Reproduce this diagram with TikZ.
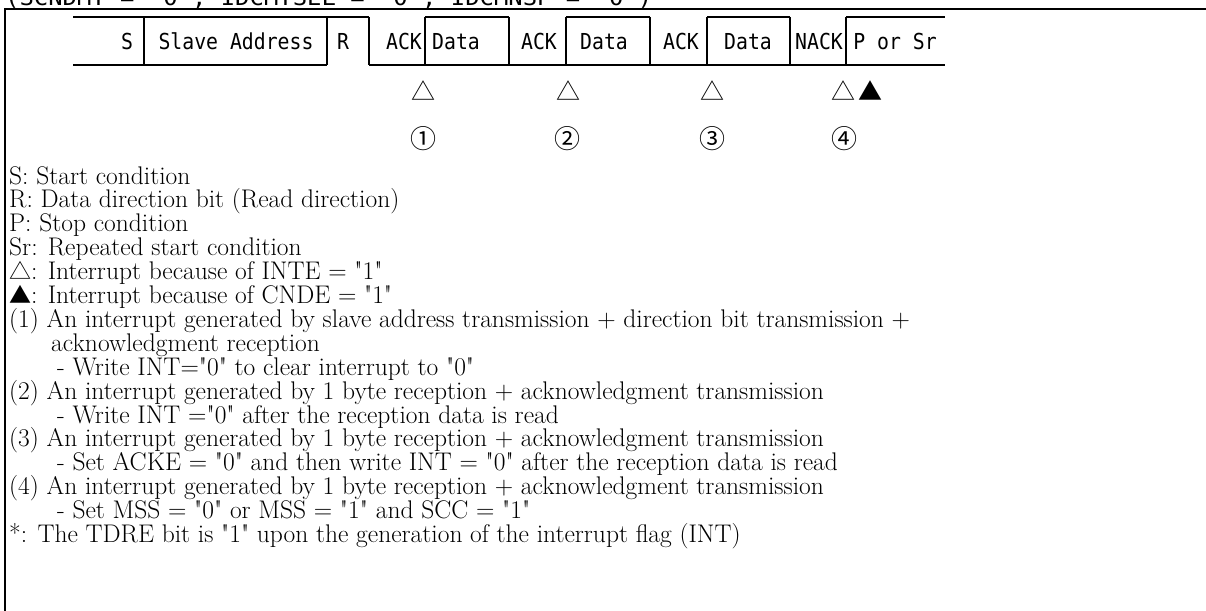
\documentclass[tikz,border=0pt]{standalone}
\usepackage{fontspec}
\usepackage{graphicx}
\newfontfamily\gothic[FakeStretch=0.9]{DejaVu Sans Mono}
\newfontfamily\cjk{Noto Sans CJK JP}
\newcommand\lsymb[1]{{\cjk\fontsize{22pt}{24pt}\selectfont #1}}
\newcommand\dq{\XeTeXglyph\XeTeXcharglyph"22\relax}
\tikzset{
  frameline/.style={line width=1.6pt},
  wave/.style={line width=1.5pt, line join=miter},
  fld/.style={font=\gothic\fontsize{22pt}{22pt}\selectfont, inner sep=0pt, anchor=base},
  intsym/.style={font=\cjk\fontsize{24pt}{24pt}\selectfont, inner sep=0pt, anchor=center},
  numsym/.style={font=\cjk\fontsize{26pt}{26pt}\selectfont, inner sep=0pt, anchor=center},
  lgd/.style={font=\fontsize{25.5pt}{24pt}\selectfont, inner sep=0pt, anchor=base west}
}
\begin{document}
\begin{tikzpicture}[x=1pt,y=-1pt]
\clip (0,0) rectangle (1206,610);
\fill[white] (0,0) rectangle (1206,610);
% clipped header
\node[font=\gothic\fontsize{22pt}{22pt}\selectfont, inner sep=0pt, anchor=base west] (hdr) at (5,6)
  {\resizebox{647pt}{\height}{(SCNDMT = "0", IDCMTSEL = "0", IDCMNSP = "0")}};
% frame
\draw[frameline] (5,640) -- (5,9) -- (1230,9);
% field row
\draw[wave] (73,17) -- (369,17);
\draw[wave] (73,65) -- (327,65);
\draw[wave] (369,65) -- (945,65);
\foreach \xx in {144,327,369,425,509,566,650,707,790,846}
  \draw[wave] (\xx,17) -- (\xx,65);
\draw[wave] (425,17) -- (509,17);
\draw[wave] (566,17) -- (650,17);
\draw[wave] (707,17) -- (790,17);
\draw[wave] (846,17) -- (945,17);
% field labels
\node[fld] (tS)  at (127,49) {S};
\node[fld] (tSA) at (236,49) {Slave Address};
\node[fld] (tR)  at (343,49) {R};
\node[fld] (tA1) at (404,49) {ACK};
\node[fld] (tD1) at (456,49) {Data};
\node[fld] (tA2) at (539,49) {ACK};
\node[fld] (tD2) at (604,49) {Data};
\node[fld] (tA3) at (681,49) {ACK};
\node[fld] (tD3) at (748,49) {Data};
\node[fld] (tN)  at (819,49) {NACK};
\node[fld] (tP)  at (895,49) {P or Sr};
% interrupt marks
\node[intsym] (m1) at (423,91) {△};
\node[intsym] (m2) at (568,91) {△};
\node[intsym] (m3) at (712,91) {△};
\node[intsym] (m4) at (843,91) {△};
\node[intsym] (m4b) at (870,91) {▲};
\node[numsym] (n1) at (423,139) {①};
\node[numsym] (n2) at (567,139) {②};
\node[numsym] (n3) at (712,139) {③};
\node[numsym] (n4) at (844,139) {④};
% legend
\node[lgd] (l0)  at (9,184.0) {S: Start condition};
\node[lgd] (l1)  at (9,207.9) {R: Data direction bit (Read direction)};
\node[lgd] (l2)  at (9,231.8) {P: Stop condition};
\node[lgd] (l3)  at (9,255.7) {Sr: Repeated start condition};
\node[lgd] (l4)  at (9,279.6) {\lsymb{△}: Interrupt because of INTE = \dq1\dq};
\node[lgd] (l5)  at (9,303.5) {\lsymb{▲}: Interrupt because of CNDE = \dq1\dq};
\node[lgd] (l6)  at (9,327.4) {(1) An interrupt generated by slave address transmission + direction bit transmission +};
\node[lgd] (l7)  at (51,351.3) {acknowledgment reception};
\node[lgd] (l8)  at (57,375.2) {- Write INT=\dq0\dq{} to clear interrupt to \dq0\dq};
\node[lgd] (l9)  at (9,399.1) {(2) An interrupt generated by 1 byte reception + acknowledgment transmission};
\node[lgd] (l10) at (57,423.0) {- Write INT =\dq0\dq{} after the reception data is read};
\node[lgd] (l11) at (9,446.9) {(3) An interrupt generated by 1 byte reception + acknowledgment transmission};
\node[lgd] (l12) at (57,470.8) {- Set ACKE = \dq0\dq{} and then write INT = \dq0\dq{} after the reception data is read};
\node[lgd] (l13) at (9,494.7) {(4) An interrupt generated by 1 byte reception + acknowledgment transmission};
\node[lgd] (l14) at (57,518.6) {- Set MSS = \dq0\dq{} or MSS = \dq1\dq{} and SCC = \dq1\dq};
\node[lgd] (l15) at (9,542.5) {*: The TDRE bit is \dq1\dq{} upon the generation of the interrupt flag (INT)};
\end{tikzpicture}
\end{document}
